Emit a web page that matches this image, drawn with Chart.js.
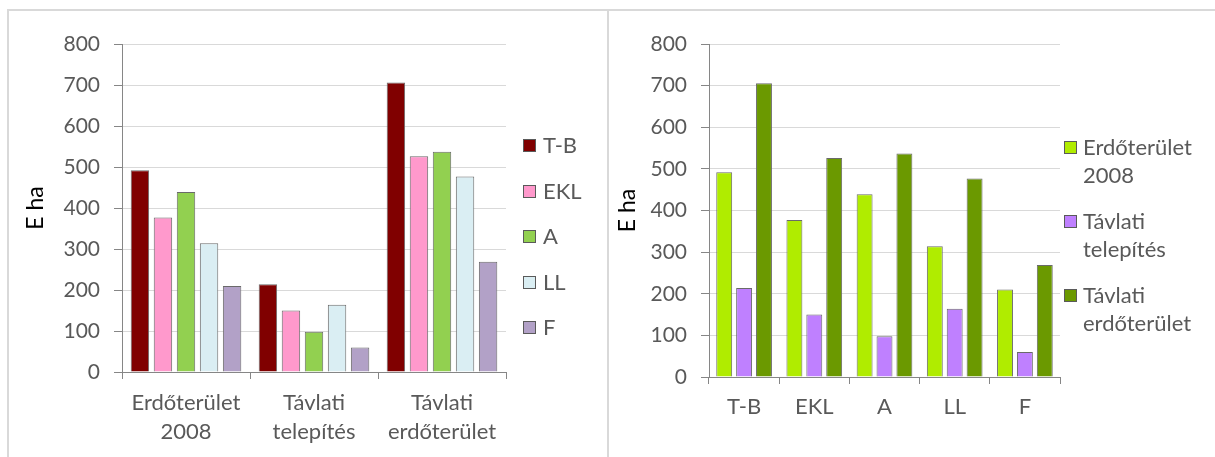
<!DOCTYPE html>
<html><head><meta charset="utf-8">
<script src="https://cdn.jsdelivr.net/npm/chart.js@4"></script>
<style>
html,body{margin:0;padding:0;background:#fff;}
body{width:1215px;height:457px;overflow:hidden;position:relative;font-family:Lato,sans-serif;}
.frame{position:absolute;top:9px;border-top:2px solid #d9d9d9;border-left:2px solid #d9d9d9;height:460px;}
#f1{left:7px;width:598px;}
#f2{left:607px;width:620px;}
canvas{position:absolute;top:12px;}
#c1{left:10px;}
#c2{left:610px;}
.legend{position:absolute;color:#595959;font-size:22px;font-family:Lato,sans-serif;}
.item{position:absolute;left:0;white-space:nowrap;line-height:28px;}
.box{position:absolute;left:0;top:8px;width:11px;height:11px;border:1px solid #5a5a5a;}
.txt{position:absolute;top:0;}
</style>
</head><body>
<div class="frame" id="f1"></div>
<div class="frame" id="f2"></div>
<canvas id="c1" width="596" height="445"></canvas>
<canvas id="c2" width="605" height="445"></canvas>
<div class="legend" id="lg1" style="left:523px;top:0;"></div>
<div class="legend" id="lg2" style="left:1064px;top:0;"></div>
<script>
// ---- data ----
const groupLabels = [['Erdőterület','2008'],['Távlati','telepítés'],['Távlati','erdőterület']];
const regions = ['T-B','EKL','A','LL','F'];
const erdoterulet2008 = [492, 377, 439, 314, 210];
const tavlatiTelepites = [214, 150, 98, 164, 60];
const tavlatiErdoterulet = [706, 526, 537, 477, 269];
const measureValues = [erdoterulet2008, tavlatiTelepites, tavlatiErdoterulet];
const regionColors = ['#800000','#ff99cc','#92d050','#daeef3','#b2a1c7'];
const measureColors = ['#b0ec00','#bf80ff','#6b9900'];
const yMin = 0, yMax = 800, yStep = 100;
const yTitle = 'E ha';

const FONT = 'Lato';
const TXT = '#595959';

function yScale(width, titlePad){
  return {
    min:yMin, max:yMax,
    ticks:{stepSize:yStep, color:TXT, font:{family:FONT,size:21}, padding:14},
    grid:{color:'#d9d9d9', tickColor:'#868686', tickLength:8, lineWidth:1},
    border:{color:'#868686', width:1},
    title:{display:true, text:yTitle, color:'#000', font:{family:FONT,size:23}, padding:{top:titlePad,bottom:0}},
    afterFit(s){ s.width = width; }
  };
}
function xScale(height, pad){
  return {
    ticks:{color:TXT, font:{family:FONT,size:22,lineHeight:1.32}, padding:pad, maxRotation:0, autoSkip:false},
    grid:{drawOnChartArea:false, color:'#868686', tickLength:7, offset:true},
    border:{color:'#868686', width:1},
    afterFit(s){ s.height = height; }
  };
}

// left chart: groups = measures, series = regions
const leftDatasets = regions.map((r,i)=>({
  label:r,
  data: measureValues.map(arr=>arr[i]),
  backgroundColor: regionColors[i],
  borderColor:'#6a6a6a', borderWidth:1,
  categoryPercentage:0.9, barPercentage:0.8
}));
const ch1 = new Chart(document.getElementById('c1'), {
  type:'bar',
  data:{labels:groupLabels, datasets:leftDatasets},
  options:{
    responsive:false, animation:false, devicePixelRatio:1,
    layout:{padding:{top:32,right:100,bottom:0,left:0}},
    plugins:{legend:{display:false}, tooltip:{enabled:false}},
    scales:{x:xScale(85,9), y:yScale(112,12)}
  }
});

// right chart: groups = regions, series = measures
const rightDatasets = groupLabels.map((g,i)=>({
  label:g.join(' '),
  data: measureValues[i],
  backgroundColor: measureColors[i],
  borderColor:'#6a6a6a', borderWidth:1,
  categoryPercentage:0.85, barPercentage:0.8
}));
const ch2 = new Chart(document.getElementById('c2'), {
  type:'bar',
  data:{labels:regions, datasets:rightDatasets},
  options:{
    responsive:false, animation:false, devicePixelRatio:1,
    layout:{padding:{top:32,right:155,bottom:0,left:0}},
    plugins:{legend:{display:false}, tooltip:{enabled:false}},
    scales:{x:xScale(80,8), y:yScale(99,4)}
  }
});

// HTML legends built from the chart datasets
function buildLegend(el, chart, lines, firstCenter, spacing, textLeft){
  chart.data.datasets.forEach((ds,i)=>{
    const it = document.createElement('div');
    it.className='item';
    it.style.top = (firstCenter + i*spacing - 14) + 'px';
    const b = document.createElement('div');
    b.className='box'; b.style.background = ds.backgroundColor;
    const t = document.createElement('div');
    t.className='txt'; t.style.left = textLeft+'px';
    t.innerHTML = lines[i].join('<br>');
    it.appendChild(b); it.appendChild(t); el.appendChild(it);
  });
}
buildLegend(document.getElementById('lg1'), ch1, regions.map(r=>[r]), 145, 45.5, 20);
buildLegend(document.getElementById('lg2'), ch2, groupLabels, 147, 74, 19);
</script>
</body></html>
